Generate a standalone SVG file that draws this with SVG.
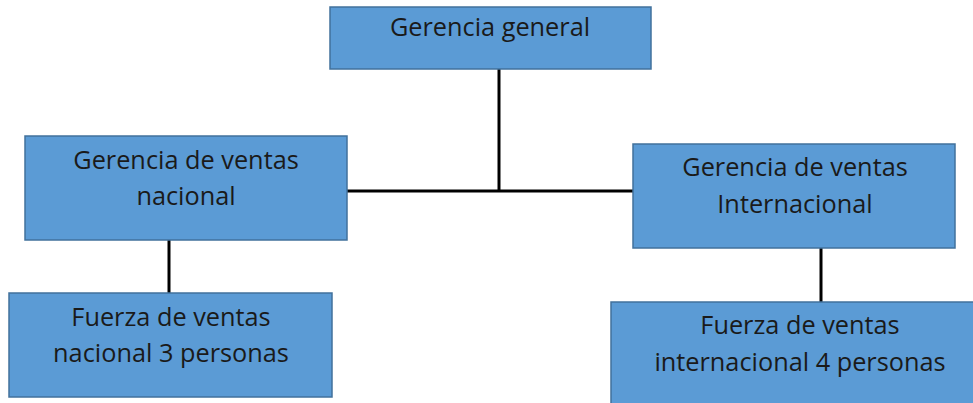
<svg xmlns="http://www.w3.org/2000/svg" width="973" height="403" viewBox="0 0 973 403">
<style>
.box{fill:#5B9BD5;stroke:#41719C;stroke-width:1.5}
.t{font-family:"Open Sans","Liberation Sans",sans-serif;font-size:25.3px;fill:#1a1a1a;text-anchor:middle}
.c{stroke:#000;stroke-width:3;fill:none}
</style>
<rect width="973" height="403" fill="#fff"/>
<g id="connectors">
<line class="c" x1="499" y1="69" x2="499" y2="191"/>
<line class="c" x1="347" y1="191" x2="633" y2="191"/>
<line class="c" x1="169" y1="240" x2="169" y2="293"/>
<line class="c" x1="821" y1="248" x2="821" y2="302"/>
</g>
<g id="gerencia-general">
<rect class="box" x="330" y="7" width="321" height="62"/>
<text class="t" x="490" y="36">Gerencia general</text>
</g>
<g id="ventas-nacional">
<rect class="box" x="25" y="136" width="322" height="104"/>
<text class="t" x="186" y="169">Gerencia de ventas</text>
<text class="t" x="186" y="205">nacional</text>
</g>
<g id="ventas-internacional">
<rect class="box" x="633" y="144" width="322" height="104"/>
<text class="t" x="795" y="176">Gerencia de ventas</text>
<text class="t" x="795" y="213">Internacional</text>
</g>
<g id="fuerza-nacional">
<rect class="box" x="9" y="293" width="323" height="104"/>
<text class="t" x="171" y="326">Fuerza de ventas</text>
<text class="t" x="171" y="362">nacional 3 personas</text>
</g>
<g id="fuerza-internacional">
<rect class="box" x="611" y="302" width="370" height="110"/>
<text class="t" x="800" y="334">Fuerza de ventas</text>
<text class="t" x="800" y="371">internacional 4 personas</text>
</g>
</svg>
